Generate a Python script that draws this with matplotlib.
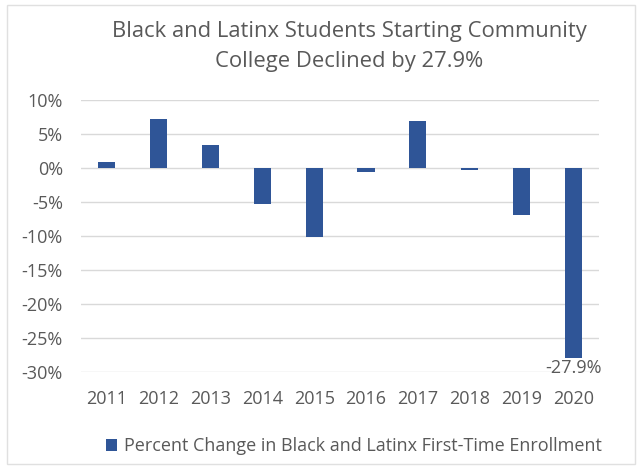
import matplotlib.pyplot as plt
from matplotlib.patches import Rectangle
from matplotlib.ticker import FuncFormatter

# data
years = ["2011", "2012", "2013", "2014", "2015", "2016", "2017", "2018", "2019", "2020"]
pct_change = [0.9, 7.2, 3.4, -5.3, -10.1, -0.5, 7.0, -0.3, -6.9, -27.9]
yticks = [10, 5, 0, -5, -10, -15, -20, -25, -30]

title = "Black and Latinx Students Starting Community\nCollege Declined by 27.9%"
legend_label = "Percent Change in Black and Latinx First-Time Enrollment"

bar_color = "#2F5597"
text_color = "#595959"
grid_color = "#D9D9D9"

plt.rcParams["font.family"] = ["Open Sans", "DejaVu Sans"]

fig = plt.figure(figsize=(6.38, 4.66), dpi=100)
ax = fig.add_axes([0.127, 0.202, 0.812, 0.583])

# thin frame around the whole chart
fig.patches.append(Rectangle((0.011, 0.004), 0.985, 0.985, transform=fig.transFigure,
                             fill=False, edgecolor="#E0E0E0", linewidth=1))

x = range(len(years))
ax.bar(x, pct_change, width=0.33, color=bar_color, zorder=2, label=legend_label)

ax.set_ylim(-30, 10)
ax.set_xlim(-0.5, len(years) - 0.5)
ax.set_yticks(yticks)
ax.yaxis.set_major_formatter(FuncFormatter(lambda v, _: f"{v:.0f}%"))
ax.set_xticks(list(x))
ax.set_xticklabels(years)
ax.grid(axis="y", color=grid_color, linewidth=1, zorder=1)
for spine in ax.spines.values():
    spine.set_visible(False)
ax.tick_params(axis="both", length=0, labelsize=13, colors=text_color)
ax.tick_params(axis="y", pad=13)
ax.tick_params(axis="x", pad=13)

# label only the last bar
ax.annotate(f"{pct_change[-1]}%", xy=(x[-1], pct_change[-1]), xytext=(0, -1),
            textcoords="offset points", ha="center", va="top",
            fontsize=13, color=text_color)

fig.suptitle(title, x=0.548, y=0.955, fontsize=15.8, color=text_color,
             linespacing=1.55)

fig.legend(loc="lower center", bbox_to_anchor=(0.555, -0.012), frameon=False,
           fontsize=13, labelcolor=text_color, handlelength=0.6,
           handleheight=0.6, handletextpad=0.4)

fig.savefig("out.png", dpi=100)
